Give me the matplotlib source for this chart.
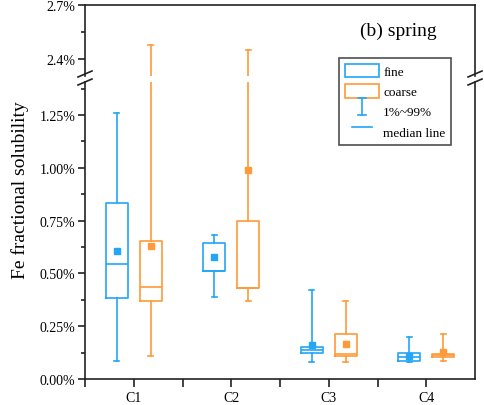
import numpy as np
import matplotlib
matplotlib.use("Agg")
import matplotlib.pyplot as plt
from matplotlib.lines import Line2D
from matplotlib.patches import Rectangle
from matplotlib.legend_handler import HandlerBase
from matplotlib.ticker import MultipleLocator, FuncFormatter, FixedLocator

plt.rcParams['font.family'] = ['Liberation Serif', 'DejaVu Serif']

# values in % (1%, 25%, median, 75%, 99%, mean)
groups = ['C1', 'C2', 'C3', 'C4']
fine_p1 = [0.085, 0.390, 0.082, 0.080]
fine_q1 = [0.382, 0.513, 0.122, 0.085]
fine_med = [0.545, 0.513, 0.137, 0.103]
fine_q3 = [0.832, 0.645, 0.153, 0.123]
fine_p99 = [1.261, 0.682, 0.421, 0.200]
fine_mean = [0.607, 0.579, 0.162, 0.110]

coarse_p1 = [0.107, 0.369, 0.082, 0.084]
coarse_q1 = [0.368, 0.429, 0.110, 0.106]
coarse_med = [0.436, 0.429, 0.118, 0.113]
coarse_q3 = [0.653, 0.747, 0.213, 0.120]
coarse_p99 = [2.48, 2.45, 0.371, 0.212]
coarse_mean = [0.631, 0.990, 0.166, 0.129]

blue = '#23A6F6'
orange = '#FF9A38'

W, H = 484, 406
fig = plt.figure(figsize=(W / 100, H / 100), dpi=100)
left, right = 85 / W, 475 / W
ax_top = fig.add_axes([left, 1 - 77 / H, right - left, (77 - 6) / H])
ax_bot = fig.add_axes([left, 1 - 380 / H, right - left, (380 - 83) / H])


def make_stats(p1, q1, med, q3, p99, mean):
    return [dict(whislo=a, q1=b, med=c, q3=d, whishi=e, mean=f, fliers=[])
            for a, b, c, d, e, f in zip(p1, q1, med, q3, p99, mean)]


fine_stats = make_stats(fine_p1, fine_q1, fine_med, fine_q3, fine_p99, fine_mean)
coarse_stats = make_stats(coarse_p1, coarse_q1, coarse_med, coarse_q3, coarse_p99, coarse_mean)
x = np.arange(1, len(groups) + 1)
off = 0.174
lw = 1.2

for ax in (ax_top, ax_bot):
    for stats, pos, col in ((fine_stats, x - off, blue), (coarse_stats, x + off, orange)):
        ax.bxp(stats, positions=pos, widths=0.225, capwidths=0.05, showmeans=True,
               showfliers=False,
               boxprops=dict(color=col, linewidth=lw),
               medianprops=dict(color=col, linewidth=lw),
               whiskerprops=dict(color=col, linewidth=lw),
               capprops=dict(color=col, linewidth=lw),
               meanprops=dict(marker='s', markersize=4, markerfacecolor=col,
                              markeredgecolor=col))

for ax in (ax_top, ax_bot):
    ax.set_xlim(0.5, 4.5)
    for s in ax.spines.values():
        s.set_linewidth(1.2)
        s.set_color('#222222')

ax_top.set_ylim(2.306, 2.7)
ax_bot.set_ylim(0, 1.406)
ax_top.spines['bottom'].set_visible(False)
ax_bot.spines['top'].set_visible(False)
ax_top.tick_params(axis='x', which='both', bottom=False, labelbottom=False)

ax_top.yaxis.set_major_locator(FixedLocator([2.4, 2.7]))
ax_top.yaxis.set_minor_locator(FixedLocator([2.55]))
ax_top.yaxis.set_major_formatter(FuncFormatter(lambda v, p: '%.1f%%' % v))
ax_bot.yaxis.set_major_locator(MultipleLocator(0.25))
ax_bot.yaxis.set_minor_locator(MultipleLocator(0.125))
ax_bot.yaxis.set_major_formatter(FuncFormatter(lambda v, p: '%.2f%%' % v))

ax_bot.set_xticks(x)
ax_bot.set_xticklabels(groups)
ax_bot.xaxis.set_minor_locator(FixedLocator([0.5, 1.5, 2.5, 3.5]))

for ax in (ax_top, ax_bot):
    ax.tick_params(axis='y', which='major', length=5, width=1.2, labelsize=10,
                   direction='out', pad=2, color='#222222')
    ax.tick_params(axis='y', which='minor', length=3, width=1.2, direction='out',
                   color='#222222')
ax_bot.tick_params(axis='x', which='both', length=6, width=1.2, labelsize=10,
                   direction='out', pad=3, color='#222222')

fig.text(20 / W, 1 - 190 / H, 'Fe fractional solubility', rotation=90,
         ha='center', va='center', fontsize=14)
fig.text(398 / W, 1 - 31 / H, '(b) spring', ha='center', va='center', fontsize=14)

# break marks
for xb in (85, 475):
    for yb in (75, 83):
        fig.add_artist(Line2D([(xb - 7) / W, (xb + 7) / W],
                              [1 - (yb + 3) / H, 1 - (yb - 3) / H],
                              color='#222222', linewidth=1.2))


class ErrHandler(HandlerBase):
    def create_artists(self, legend, orig, xd, yd, width, height, fontsize, trans):
        cx = xd + width / 2
        v = Line2D([cx, cx], [yd - 1, yd + height + 1], color=blue, lw=1.2, transform=trans)
        c1 = Line2D([cx - 3, cx + 3], [yd - 1, yd - 1], color=blue, lw=1.2, transform=trans)
        c2 = Line2D([cx - 3, cx + 3], [yd + height + 1, yd + height + 1], color=blue,
                    lw=1.2, transform=trans)
        return [v, c1, c2]


class MedHandler(HandlerBase):
    def create_artists(self, legend, orig, xd, yd, width, height, fontsize, trans):
        ym = yd + height / 2
        return [Line2D([xd + 5, xd + width - 5], [ym, ym], color=blue, lw=1.2,
                       transform=trans)]


h_fine = Rectangle((0, 0), 1, 1, facecolor='none', edgecolor=blue, linewidth=1.2)
h_coarse = Rectangle((0, 0), 1, 1, facecolor='none', edgecolor=orange, linewidth=1.2)
h_err = Line2D([], [])
h_med = Line2D([], [], color=blue)
leg = fig.legend([h_fine, h_coarse, h_err, h_med],
                 ['fine', 'coarse', '1%~99%', 'median line'],
                 handler_map={h_err: ErrHandler(), h_med: MedHandler()},
                 loc='upper left', bbox_to_anchor=(339 / W, 1 - 59 / H),
                 fontsize=9.5, frameon=True, fancybox=False, edgecolor='#222222',
                 handlelength=2.6, handleheight=1.2, labelspacing=0.45,
                 handletextpad=0.3, borderpad=0.45, borderaxespad=0)
leg.get_frame().set_linewidth(1.2)

plt.savefig('out.png', dpi=100)
plt.close()
